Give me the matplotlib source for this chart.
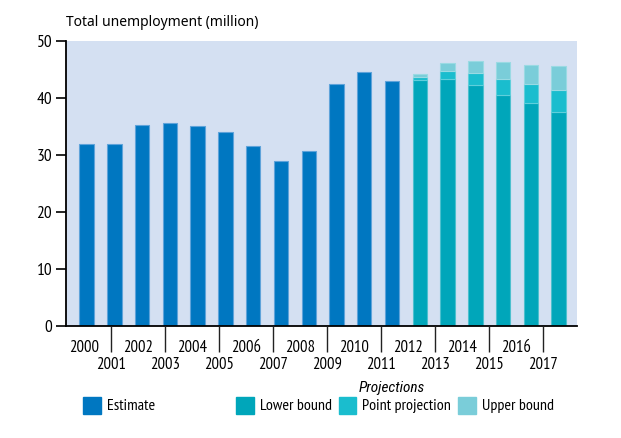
import matplotlib.pyplot as plt
from matplotlib.patches import Rectangle

# datos
years = list(range(2000, 2018))
estimate = [32.0, 32.0, 35.2, 35.6, 35.1, 34.0, 31.5, 28.9, 30.7, 42.5, 44.6, 43.0]
proj_years = [2012, 2013, 2014, 2015, 2016, 2017]
lower = [43.2, 43.4, 42.3, 40.6, 39.1, 37.6]
point = [43.7, 44.7, 44.3, 43.3, 42.5, 41.4]
upper = [44.2, 46.1, 46.5, 46.3, 45.8, 45.6]

c_est = '#0077C1'
c_low = '#00A6BA'
c_pt = '#1ABDCE'
c_up = '#7ACDD9'
bg = '#D4E0F2'

narrow = ['PT Sans Narrow', 'DejaVu Sans']
fs = 12

fig = plt.figure(figsize=(6.21, 4.38), dpi=100)
ax = fig.add_axes([66 / 621, 1 - 326 / 438, 511 / 621, 285 / 438])
ax.set_facecolor(bg)

w = 0.52
xe = [y - 2000 for y in years[:len(estimate)]]
ax.bar(xe, estimate, width=w, color=c_est, edgecolor='#5FA3DA', linewidth=0.8, zorder=2)

xp = [y - 2000 for y in proj_years]
ax.bar(xp, lower, width=w, color=c_low, edgecolor='#4CC0CE', linewidth=0.8, zorder=2)
ax.bar(xp, [p - l for p, l in zip(point, lower)], bottom=lower, width=w, color=c_pt,
       edgecolor='#5FCFDB', linewidth=0.8, zorder=2)
ax.bar(xp, [u - p for u, p in zip(upper, point)], bottom=point, width=w, color=c_up,
       edgecolor='#9ADAE3', linewidth=0.8, zorder=2)

ax.set_xlim(-0.74, 17.66)
ax.set_ylim(0, 50)
ax.set_yticks([0, 10, 20, 30, 40, 50])
ax.set_yticklabels([str(v) for v in [0, 10, 20, 30, 40, 50]], family=narrow, fontsize=12.5)
ax.tick_params(axis='y', length=7, width=1.2, pad=3)
ax.set_xticks([])
for s in ['top', 'right']:
    ax.spines[s].set_visible(False)
for s in ['left', 'bottom']:
    ax.spines[s].set_linewidth(1.3)

# eje de años (escala propia, como en el original)
ax2 = ax.twiny()
ax2.set_xlim(-0.667, 18.26)
ax2.xaxis.set_ticks_position('bottom')
ax2.xaxis.set_label_position('bottom')
for s in ax2.spines.values():
    s.set_visible(False)
idx = list(range(len(years)))
ax2.set_xticks(idx[0::2])
ax2.set_xticklabels([str(y) for y in years[0::2]], family=narrow, fontsize=fs)
ax2.set_xticks(idx[1::2], minor=True)
ax2.set_xticklabels([str(y) for y in years[1::2]], minor=True, family=narrow, fontsize=fs)
ax2.tick_params(axis='x', which='major', length=0, pad=10)
ax2.tick_params(axis='x', which='minor', length=19, width=1, pad=3, color='#222222')

fig.text(66 / 621, 1 - 22 / 438, 'Total unemployment (million)', family=['Noto Sans', 'DejaVu Sans'],
         fontsize=10, va='center', ha='left')

# leyenda
def legend_item(x, label, color):
    fig.patches.append(Rectangle((x / 621, 1 - 414 / 438), 17.5 / 621, 17.5 / 438,
                                 transform=fig.transFigure, color=color))
    fig.text((x + 24) / 621, 1 - 406 / 438, label, family=narrow, fontsize=fs - 0.5,
             va='center', ha='left')

legend_item(83.5, 'Estimate', c_est)
legend_item(236, 'Lower bound', c_low)
legend_item(338.5, 'Point projection', c_pt)
legend_item(458.5, 'Upper bound', c_up)
fig.text(392 / 621, 1 - 388 / 438, 'Projections', family=['Roboto Condensed', 'PT Sans Narrow', 'DejaVu Sans'],
         fontsize=fs - 1, style='italic', va='center', ha='center')

fig.savefig('out.png', dpi=100)
